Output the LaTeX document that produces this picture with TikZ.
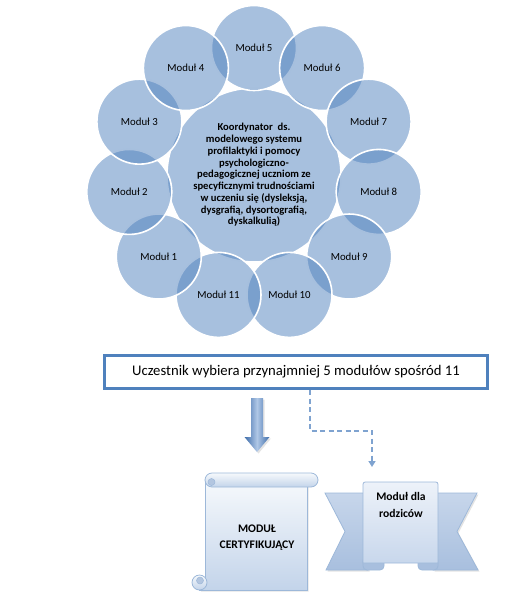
\documentclass[tikz,border=0pt]{standalone}
\usepackage{fontspec}
\setmainfont{Carlito}
\usetikzlibrary{arrows.meta,shadows}
\definecolor{acc}{HTML}{4F81BD}
\definecolor{dashc}{HTML}{7FA3D0}
\definecolor{scrl}{HTML}{9DB8D9}
\definecolor{sctop}{HTML}{F6F9FC}
\definecolor{scbot}{HTML}{C3D4EA}
\definecolor{curld}{HTML}{B3C6E0}
\definecolor{tailtop}{HTML}{C7D6EB}
\definecolor{tailbot}{HTML}{A8BFDE}
\definecolor{bantop}{HTML}{EDF2F9}
\definecolor{banbot}{HTML}{C8D7EC}
\definecolor{arrdark}{HTML}{3F6DAA}
\definecolor{arrlight}{HTML}{AFC7E6}
\begin{document}
\begin{tikzpicture}[x=1pt,y=-1pt,
  modc/.style={circle, minimum size=85pt, inner sep=0pt, fill=acc, fill opacity=0.5,
    text opacity=1, draw=white, draw opacity=1, line width=1.6pt,
    font=\fontsize{10.8}{13}\selectfont},
  corec/.style={circle, minimum size=174pt, inner sep=0pt, fill=acc, fill opacity=0.5,
    text opacity=1, draw=white, draw opacity=1, line width=1.6pt, align=center,
    font=\bfseries\fontsize{10.6}{11.75}\selectfont},
  selbox/.style={draw=acc, line width=3pt, fill=white, minimum width=383pt,
    minimum height=33pt, inner sep=0pt, font=\fontsize{14.7}{17}\selectfont},
  dashconn/.style={draw=dashc, line width=1.5pt, dash pattern=on 5pt off 3.5pt,
    -{Triangle[width=7pt,length=6pt]}},
  scrollpart/.style={draw=scrl, line width=0.8pt, top color=sctop, bottom color=scbot},
  curldark/.style={fill=curld, draw=scrl, line width=0.5pt},
  ribtail/.style={draw=scrl, line width=0.8pt, top color=tailtop, bottom color=tailbot},
  ribbanner/.style={draw=scrl, line width=0.8pt, top color=bantop, bottom color=banbot},
  ribfold/.style={draw=scrl, line width=0.8pt, fill=tailbot},
  boldlabel/.style={align=center, inner sep=0pt, font=\bfseries\fontsize{11.6}{16}\selectfont},
  shadowed/.style={drop shadow={opacity=0.22, shadow xshift=1.5pt, shadow yshift=-1.5pt}}
]
\useasboundingbox (0,0) rectangle (507,603);

% central circle
\node[corec] (core) at (254,175) {Koordynator~ ds.\\modelowego systemu\\profilaktyki i pomocy\\psychologiczno-\\pedagogicznej uczniom ze\\specyficznymi trudnościami\\w uczeniu się (dysleksją,\\dysgrafią, dysortografią,\\dyskalkulią)};

% module circles
\foreach \k/\i in {5/0,6/1,7/2,8/3,9/4,10/5,11/6,1/7,2/8,3/9,4/10} {
  \node[modc] (m\k) at ({254+126*cos(90-\i*360/11)},{174-126*sin(90-\i*360/11)}) {Moduł \k};
}

% selection box
\node[selbox] (box) at (296,372) {Uczestnik wybiera przynajmniej 5 modułów spośród 11};

% block arrow
\path[shadowed, left color=arrdark, right color=arrdark, middle color=arrlight]
  (251,398) -- (263,398) -- (263,437) -- (269.5,437) -- (257,452) -- (244.5,437) -- (251,437) -- cycle;

% dashed connector
\coordinate (dend) at (372,467);
\draw[dashconn] ([xshift=14pt]box.south) -- ++(0,41) -| (dend);

% vertical scroll
\path[scrollpart, shadowed] (205,480) -- (307,480) -- (307,590) -- (199.5,590) -- (199.5,582) -- (205,582) -- cycle;
\draw[scrollpart] (199.5,582.5) circle[radius=7.5];
\draw[curldark] (200,580.5) circle[radius=3.5];
\draw[scrollpart, rounded corners=7pt] (205,473) rectangle (318,487);
\draw[curldark] (211.5,482) circle[radius=3.5];
\node[boldlabel] (cert) at (257,538) {MODUŁ\\CERTYFIKUJĄCY};

% ribbon
\path[ribtail, shadowed] (325,493) -- (368,493) -- (368,570) -- (326,570) -- (345,531.5) -- cycle;
\path[ribtail, shadowed] (477,493) -- (433,493) -- (433,570) -- (478,570) -- (457,531.5) -- cycle;
\path[ribfold, rounded corners=4pt] (363,557) rectangle (384,570);
\path[ribfold, rounded corners=4pt] (418,557) rectangle (438,570);
\path[ribbanner] (363,563) -- (363,487) .. controls (363,482) .. (368,482) -- (433,482)
  .. controls (438,482) .. (438,487) -- (438,563) -- cycle;
\node[boldlabel, font=\bfseries\fontsize{11.6}{17}\selectfont] (rib) at (401,504.5) {Moduł dla\\rodziców};
\end{tikzpicture}
\end{document}
